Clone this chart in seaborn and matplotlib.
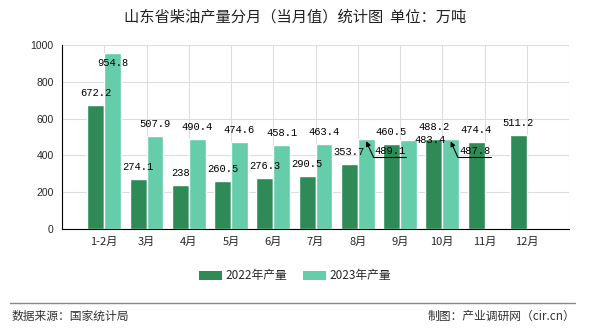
import numpy as np
import pandas as pd
import matplotlib
matplotlib.use("Agg")
import matplotlib.pyplot as plt
from matplotlib.lines import Line2D
from matplotlib.patches import Patch
import seaborn as sns

months = ["1-2月", "3月", "4月", "5月", "6月", "7月", "8月", "9月", "10月", "11月", "12月"]
series_names = ["2022年产量", "2023年产量"]
values_2022 = [672.2, 274.1, 238, 260.5, 276.3, 290.5, 353.7, 460.5, 488.2, 474.4, 511.2]
values_2023 = [954.8, 507.9, 490.4, 474.6, 458.1, 463.4, 489.1, 483.4, 487.8, None, None]
yticks = [0, 200, 400, 600, 800, 1000]
title = "山东省柴油产量分月（当月值）统计图  单位：万吨"
source = "数据来源：国家统计局"
maker = "制图：产业调研网（cir.cn）"
colors = ["#2E8B57", "#66CDAA"]

sns.set_style("white")
plt.rcParams['font.family'] = ['Noto Sans CJK SC', 'DejaVu Sans']

rows = []
for m, a, b in zip(months, values_2022, values_2023):
    if a is not None:
        rows.append((m, series_names[0], a))
    if b is not None:
        rows.append((m, series_names[1], b))
df = pd.DataFrame(rows, columns=["month", "series", "value"])

fig = plt.figure(figsize=(5.9, 3.3), dpi=100)
ax = fig.add_axes([62/590, 1-229/330, (569-62)/590, (229-45)/330])

sns.barplot(data=df, x="month", y="value", hue="series", order=months,
            hue_order=series_names, palette=colors, width=0.8, ax=ax,
            saturation=1, legend=False, errorbar=None)

ax.set_xlim(-1, 11)
ax.set_ylim(0, 1000)
ax.set_yticks(yticks)
ax.set_yticklabels([str(v) for v in yticks], family="Liberation Sans", fontsize=7.5)
ax.set_xticks(range(-1, 12))
ax.set_xticklabels([""] + months + [""], fontsize=8)
ax.set_xlabel("")
ax.set_ylabel("")
ax.tick_params(axis="both", direction="out", length=4, width=0.8, color="black", pad=2)
ax.grid(True, color="#dddddd", lw=0.8)
ax.set_axisbelow(True)
for s in ["top", "right"]:
    ax.spines[s].set_visible(False)
for s in ["left", "bottom"]:
    ax.spines[s].set_color("black")
    ax.spines[s].set_linewidth(0.8)

lab_kw = dict(fontsize=7.5, family="Liberation Mono", color="black")

def fmt(v):
    return ("%g" % v)

for si, vals in enumerate([values_2022, values_2023]):
    off = -0.2 if si == 0 else 0.2
    for i, v in enumerate(vals):
        if v is None:
            continue
        xc = i + off
        txt = fmt(v)
        if si == 1 and months[i] in ("8月", "10月"):
            yu = v - 98
            ax.annotate("", xy=(xc, v - 12), xytext=(xc + 0.17, yu),
                        arrowprops=dict(arrowstyle="-|>", color="black", lw=0.8,
                                        mutation_scale=7, shrinkA=0, shrinkB=0))
            ax.plot([xc + 0.17, xc + 0.95], [yu, yu], color="black", lw=0.8)
            ax.text(xc + 0.2, yu + 8, txt, ha="left", va="bottom", **lab_kw)
        elif si == 1 and months[i] == "9月":
            ax.text(xc + 0.52, v, txt, ha="center", va="center", **lab_kw)
        elif si == 1 and i == 0:
            ax.text(xc, v - 50, txt, ha="center", va="center", **lab_kw)
        else:
            ax.annotate(txt, xy=(xc, v), xytext=(0, 8.6), textcoords="offset points",
                        ha="center", va="center", **lab_kw)

fig.text(0.5, 1-17/330, title, ha="center", va="center", fontsize=11, color="#222222")

handles = [Patch(facecolor=c, edgecolor="none") for c in colors]
fig.legend(handles, series_names, loc="center", bbox_to_anchor=(0.5, 1-276/330),
           ncol=2, frameon=False, fontsize=8.5, handlelength=1.9, handleheight=0.8,
           columnspacing=1.4, handletextpad=0.3)

fig.add_artist(Line2D([10/590, 575/590], [1-303/330, 1-303/330], color="#888888", lw=1))
fig.text(12/590, 1-316/330, source, ha="left", va="center", fontsize=8.5, color="#333333")
fig.text(575/590, 1-316/330, maker, ha="right", va="center", fontsize=8.5, color="#333333")

fig.savefig("out.png", dpi=100)
